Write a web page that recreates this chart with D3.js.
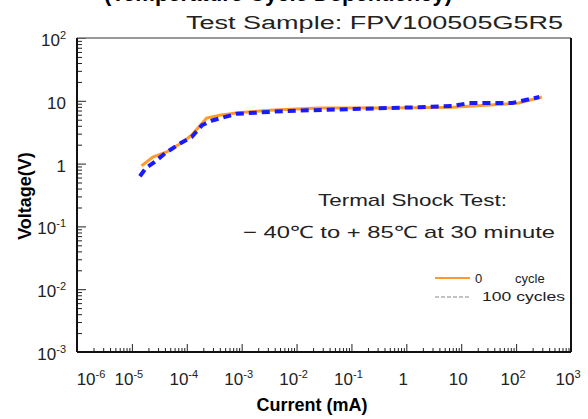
<!DOCTYPE html>
<html><head><meta charset="utf-8">
<script src="https://cdn.jsdelivr.net/npm/d3@7"></script>
<style>body{margin:0;background:#fff}svg{display:block}text{font-family:"Liberation Sans",Arial,sans-serif}</style>
</head><body><svg id="c" width="588" height="419"></svg>
<script>
const xTickVals=[1e-6,1e-5,1e-4,1e-3,1e-2,1e-1,1,10,100,1000];
const xTickLabels=[["10","-6"],["10","-5"],["10","-4"],["10","-3"],["10","-2"],["10","-1"],["1",""],["10",""],["10","2"],["10","3"]];
const yTickVals=[1e-3,1e-2,1e-1,1,10,100];
const yTickLabels=[["10","-3"],["10","-2"],["10","-1"],["1",""],["10",""],["10","2"]];
const cycle0X=[1.5e-5,2.4e-5,4.3e-5,8.5e-5,1.23e-4,2.3e-4,4e-4,8e-4,3.2e-3,2.6e-2,0.43,6.9,28,112,295];
const cycle0Y=[0.92,1.27,1.53,2.2,2.85,5.3,5.9,6.4,7.1,7.7,7.7,7.9,8.5,9.2,11.5];
const cycle100X=[1.4e-5,1.8e-5,2.6e-5,4.1e-5,7.8e-5,1.23e-4,1.9e-4,3e-4,8e-4,6.6e-3,0.105,1.7,6.9,14,85,265];
const cycle100Y=[0.63,0.85,1.06,1.48,2.13,2.65,4.1,4.9,6.2,6.9,7.4,7.9,8.3,9.2,9.2,11.5];

const svg=d3.select("#c");
const L=77,R=571,T=38,B=352;
const x=d3.scaleLog().domain([1e-6,1e3]).range([L,R]);
const y=d3.scaleLog().domain([1e-3,1e2]).range([B,T]);

// partially cropped title (cut off at the top edge, as in the reference)
svg.append("text").attr("x",278).attr("y",1).attr("text-anchor","middle")
  .attr("font-size",22).attr("font-weight","bold").text("(Temperature Cycle Dependency)");
svg.append("text").attr("x",186).attr("y",29).attr("font-size",18)
  .attr("textLength",377).attr("lengthAdjust","spacingAndGlyphs").attr("fill","#222")
  .text("Test    Sample: FPV100505G5R5");

// minor ticks
const minorX=[],minorY=[];
for(let e=-6;e<3;e++)for(let k=2;k<10;k++)minorX.push(k*Math.pow(10,e));
for(let e=-3;e<2;e++)for(let k=2;k<10;k++)minorY.push(k*Math.pow(10,e));

const gx=svg.append("g").attr("transform",`translate(0,${B})`);
gx.call(d3.axisBottom(x).tickValues(minorX).tickSize(-4).tickFormat(""));
gx.append("g").call(d3.axisBottom(x).tickValues(xTickVals).tickSize(-8).tickFormat(""));
gx.selectAll(".domain").remove();
gx.selectAll("line").attr("stroke","#222");

const gy=svg.append("g").attr("transform",`translate(${L},0)`);
gy.call(d3.axisLeft(y).tickValues(minorY).tickSize(-5).tickFormat(""));
gy.append("g").call(d3.axisLeft(y).tickValues(yTickVals).tickSize(-9).tickFormat(""));
gy.selectAll(".domain").remove();
gy.selectAll("line").attr("stroke","#222");

// frame
svg.append("line").attr("x1",L).attr("x2",R).attr("y1",T).attr("y2",T).attr("stroke","#777").attr("stroke-width",1.5);
svg.append("line").attr("x1",R).attr("x2",R).attr("y1",T).attr("y2",B).attr("stroke","#111").attr("stroke-width",2);
svg.append("line").attr("x1",L).attr("x2",R).attr("y1",B).attr("y2",B).attr("stroke","#111").attr("stroke-width",2);
svg.append("line").attr("x1",L).attr("x2",L).attr("y1",T).attr("y2",B).attr("stroke","#111").attr("stroke-width",2);

// tick labels
const xl=svg.append("g");
xTickVals.forEach((v,i)=>{
  const cx=i===0?x(v)+14:x(v)-3;
  const t=xl.append("text").attr("x",cx).attr("y",385).attr("text-anchor","middle").attr("font-size",17).attr("fill","#222");
  t.append("tspan").text(xTickLabels[i][0]);
  if(xTickLabels[i][1])t.append("tspan").attr("dy",-7).attr("font-size",11).text(xTickLabels[i][1]);
});
const yl=svg.append("g");
yTickVals.forEach((v,i)=>{
  const t=yl.append("text").attr("x",66).attr("y",y(v)+8).attr("text-anchor","end").attr("font-size",17).attr("fill","#222");
  t.append("tspan").text(yTickLabels[i][0]);
  if(yTickLabels[i][1])t.append("tspan").attr("dy",-7).attr("font-size",11).text(yTickLabels[i][1]);
});

// axis titles
svg.append("text").attr("transform","translate(31,196) rotate(-90)").attr("text-anchor","middle")
  .attr("font-size",18).attr("font-weight","bold").text("Voltage(V)");
svg.append("text").attr("x",312).attr("y",411).attr("text-anchor","middle")
  .attr("font-size",18).attr("font-weight","bold").text("Current (mA)");

// lines
const line=d3.line().x(d=>x(d[0])).y(d=>y(d[1]));
svg.append("path").datum(cycle0X.map((v,i)=>[v,cycle0Y[i]])).attr("d",line)
  .attr("fill","none").attr("stroke","#ff9a2e").attr("stroke-width",3);
svg.append("path").datum(cycle100X.map((v,i)=>[v,cycle100Y[i]])).attr("d",line)
  .attr("fill","none").attr("stroke","#1a1aff").attr("stroke-width",4).attr("stroke-dasharray","8,5");

// annotations
svg.append("text").attr("x",318).attr("y",206).attr("font-size",17).attr("fill","#222")
  .attr("textLength",189).attr("lengthAdjust","spacingAndGlyphs").text("Termal Shock Test:");
svg.append("text").attr("x",243).attr("y",238).attr("font-size",17).attr("fill","#222")
  .attr("textLength",312).attr("lengthAdjust","spacingAndGlyphs").text("− 40℃  to  + 85℃  at 30 minute");

// legend
svg.append("line").attr("x1",435).attr("x2",470).attr("y1",278).attr("y2",278).attr("stroke","#ff9a2e").attr("stroke-width",2);
svg.append("text").attr("x",475).attr("y",283).attr("font-size",13).attr("fill","#222").text("0");
svg.append("text").attr("x",515).attr("y",283).attr("font-size",13).attr("fill","#222").text("cycle");
svg.append("line").attr("x1",435).attr("x2",470).attr("y1",297).attr("y2",297).attr("stroke","#888").attr("stroke-width",1.2).attr("stroke-dasharray","4,2");
svg.append("text").attr("x",482).attr("y",301).attr("font-size",13).attr("fill","#222")
  .attr("textLength",83).attr("lengthAdjust","spacingAndGlyphs").text("100 cycles");
</script></body></html>
